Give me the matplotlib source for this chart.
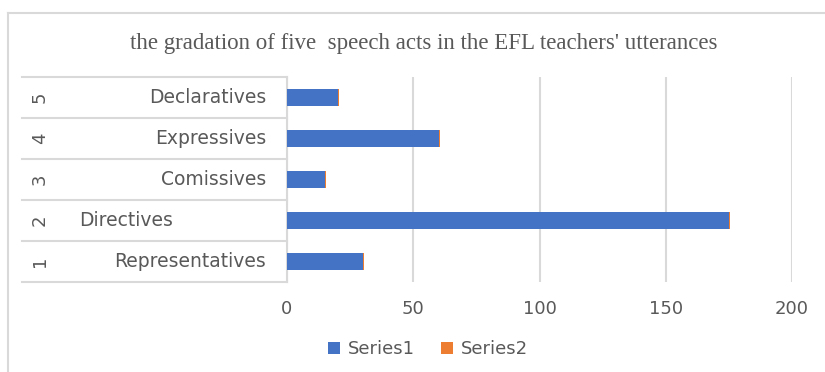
import matplotlib.pyplot as plt
import matplotlib.transforms as mtransforms

# data
numbers = ["1", "2", "3", "4", "5"]
acts = ["Representatives", "Directives", "Comissives", "Expressives", "Declaratives"]
series1 = [30, 175, 15, 60, 20]
series2 = [0.6, 0.6, 0.6, 0.6, 0.6]
xticks = [0, 50, 100, 150, 200]

W, H = 825, 372
grey_txt = "#595959"
grid_c = "#d9d9d9"

fig = plt.figure(figsize=(W / 100, H / 100), dpi=100)
fig.patch.set_facecolor("white")

# outer chart border (top + left, the rest is cut off in the reference)
fig.add_artist(plt.Line2D([8 / W, 1], [1 - 13 / H, 1 - 13 / H], color=grid_c, lw=1.5))
fig.add_artist(plt.Line2D([8 / W, 8 / W], [0, 1 - 13 / H], color=grid_c, lw=1.5))

ax = fig.add_axes([287 / W, 1 - 282 / H, (792 - 287) / W, (282 - 77) / H])
pos = list(range(len(acts)))
ax.barh(pos, series1, height=0.42, color="#4472c4", label="Series1", zorder=3)
ax.barh(pos, series2, left=series1, height=0.42, color="#ed7d31", label="Series2", zorder=3)

ax.set_xlim(0, 200)
ax.set_ylim(-0.5, len(acts) - 0.5)
ax.set_xticks(xticks)
ax.set_xticklabels([str(t) for t in xticks], fontsize=13, color=grey_txt)
ax.tick_params(axis="x", length=0, pad=13)
ax.set_yticks([])
for s in ["top", "right", "bottom"]:
    ax.spines[s].set_visible(False)
ax.spines["left"].set_color(grid_c)
ax.spines["left"].set_linewidth(1.5)
ax.grid(axis="x", color=grid_c, lw=1.5, zorder=0)

# category table on the left: x in figure coords, y in data coords
tr = mtransforms.blended_transform_factory(fig.transFigure, ax.transData)
x0, x1 = 22 / W, 287 / W
for k in range(len(acts) + 1):
    yy = k - 0.5
    ax.plot([x0, x1], [yy, yy], transform=tr, color=grid_c, lw=1.5, clip_on=False)
for i, (n, name) in enumerate(zip(numbers, acts)):
    ax.text(40 / W, i, n, transform=tr, rotation=90, ha="center", va="center",
            fontsize=13, color=grey_txt)
    if name == "Directives":
        ax.text(79 / W, i, name, transform=tr, ha="left", va="center",
                fontsize=13.5, color=grey_txt)
    else:
        ax.text(266 / W, i, name, transform=tr, ha="right", va="center",
                fontsize=13.5, color=grey_txt)

fig.text(424 / W, 1 - 43 / H, "the gradation of five  speech acts in the EFL teachers' utterances",
         ha="center", va="center", fontsize=16.5, family="Liberation Serif", color=grey_txt)

fig.legend(loc="center", bbox_to_anchor=(428 / W, 1 - 349 / H), ncol=2, frameon=False,
           fontsize=13, handlelength=0.65, handleheight=0.65, columnspacing=1.5,
           handletextpad=0.4, labelcolor=grey_txt)

fig.savefig("out.png", dpi=100)
